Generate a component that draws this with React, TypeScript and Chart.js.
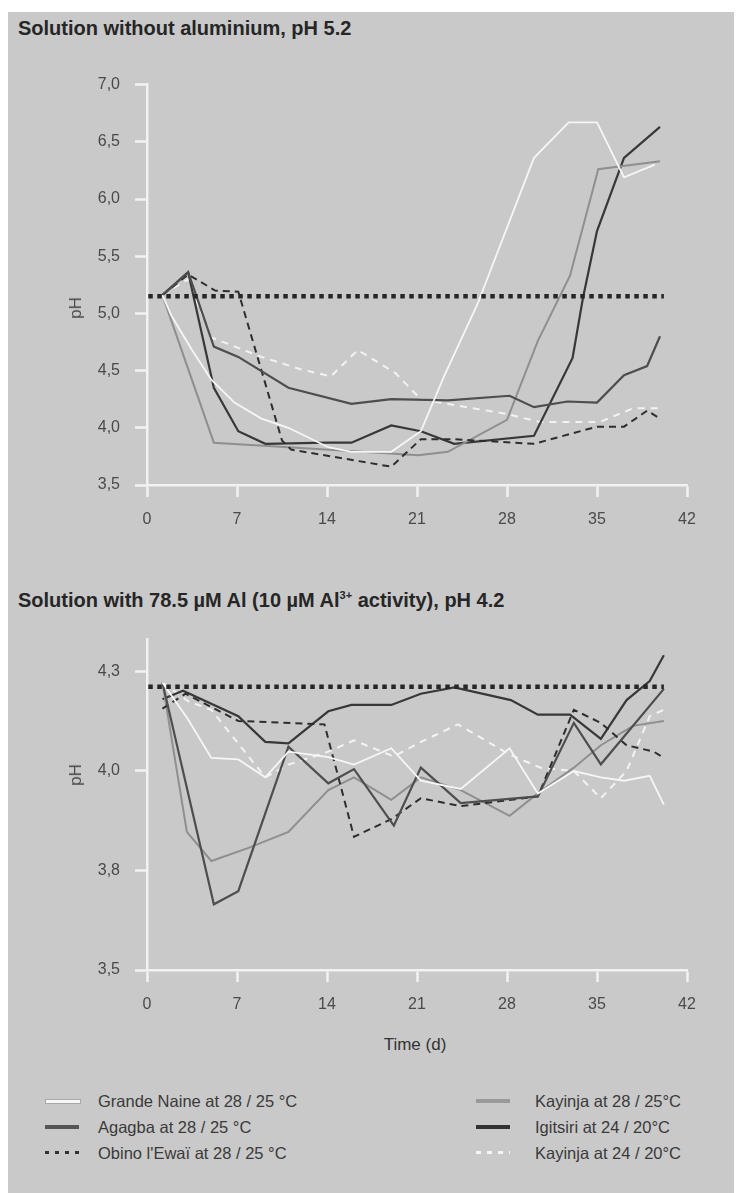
import React, { useEffect, useRef } from "react";
import { Chart, registerables } from "chart.js";

Chart.register(...registerables);

// ---------- data ----------
const xTicks = [0, 7, 14, 21, 28, 35, 42];
const topYTicks = [3.5, 4.0, 4.5, 5.0, 5.5, 6.0, 6.5, 7.0];
// bottom axis: 3.5–4.3 split in three equal steps, labelled to one decimal
const bottomYTicks = [3.5, 3.7667, 4.0333, 4.3];

const seriesNames = [
  "Grande Naine at 28 / 25 °C",
  "Agagba at 28 / 25 °C",
  "Obino l'Ewaï at 28 / 25 °C",
  "Kayinja at 28 / 25°C",
  "Igitsiri at 24 / 20°C",
  "Kayinja at 24 / 20°C",
];

// Top panel: solution without aluminium, pH 5.2
const topGrandeNaineDays = [1.2, 1.9, 3.5, 5.0, 6.8, 8.9, 11.0, 14.1, 15.9, 19.0, 21.3, 23.1, 25.7, 30.1, 32.8, 35.0, 37.1, 39.5];
const topGrandeNainePH = [5.16, 4.98, 4.68, 4.42, 4.22, 4.08, 4.0, 3.83, 3.79, 3.79, 3.97, 4.45, 5.08, 6.36, 6.67, 6.67, 6.19, 6.3];

const topAgagbaDays = [1.2, 3.2, 5.2, 7.1, 11.0, 15.9, 19.0, 23.4, 28.2, 30.1, 32.7, 35.0, 37.1, 38.9, 39.9];
const topAgagbaPH = [5.16, 5.36, 4.71, 4.62, 4.35, 4.21, 4.25, 4.24, 4.28, 4.18, 4.23, 4.22, 4.46, 4.54, 4.8];

const topObinoDays = [1.2, 3.2, 5.3, 7.1, 10.5, 11.2, 19.0, 21.3, 23.9, 30.1, 35.0, 37.1, 38.9, 39.9];
const topObinoPH = [5.16, 5.34, 5.2, 5.19, 3.89, 3.81, 3.66, 3.9, 3.9, 3.86, 4.01, 4.01, 4.15, 4.08];

const topKayinja28Days = [1.2, 5.2, 11.0, 21.1, 23.4, 28.0, 30.4, 32.9, 35.1, 39.9];
const topKayinja28PH = [5.16, 3.87, 3.83, 3.76, 3.79, 4.07, 4.76, 5.33, 6.26, 6.33];

const topIgitsiriDays = [1.2, 3.2, 5.2, 7.1, 9.2, 14.0, 15.9, 19.0, 21.3, 23.9, 30.1, 33.1, 33.9, 35.0, 37.1, 39.9];
const topIgitsiriPH = [5.16, 5.36, 4.35, 3.97, 3.86, 3.87, 3.87, 4.02, 3.97, 3.86, 3.93, 4.61, 5.13, 5.72, 6.36, 6.63];

const topKayinja24Days = [1.2, 3.2, 5.0, 8.9, 12.0, 14.3, 16.4, 19.3, 21.3, 28.0, 30.6, 35.2, 37.8, 39.9];
const topKayinja24PH = [5.16, 5.3, 4.79, 4.62, 4.51, 4.45, 4.68, 4.48, 4.25, 4.12, 4.05, 4.05, 4.17, 4.17];

const topRefDays = [0.1, 40.2];
const topRefPH = [5.15, 5.15];

// Bottom panel: solution with 78.5 µM Al, pH 4.2
const botGrandeNaineDays = [1.2, 3.2, 5.0, 7.1, 9.2, 11.0, 14.1, 16.1, 19.0, 21.3, 24.4, 28.2, 30.4, 33.2, 35.3, 37.1, 39.1, 40.2];
const botGrandeNainePH = [4.27, 4.171, 4.068, 4.064, 4.016, 4.085, 4.07, 4.05, 4.094, 4.007, 3.985, 4.094, 3.973, 4.033, 4.016, 4.007, 4.02, 3.943];

const botAgagbaDays = [1.2, 5.2, 7.1, 11.0, 14.1, 16.1, 19.2, 21.3, 24.4, 30.4, 33.2, 35.3, 40.2];
const botAgagbaPH = [4.27, 3.676, 3.711, 4.098, 4.0, 4.038, 3.887, 4.042, 3.947, 3.965, 4.162, 4.051, 4.253];

const botObinoDays = [1.2, 3.0, 7.1, 13.8, 16.1, 19.0, 21.3, 24.4, 30.4, 33.2, 35.3, 37.3, 39.4, 40.2];
const botObinoPH = [4.2, 4.24, 4.167, 4.158, 3.857, 3.904, 3.96, 3.939, 3.965, 4.197, 4.162, 4.102, 4.085, 4.068];

const botKayinja28Days = [1.2, 3.1, 5.0, 7.9, 11.0, 14.1, 16.1, 19.0, 21.3, 24.4, 28.2, 30.4, 33.2, 35.3, 37.8, 40.2];
const botKayinja28PH = [4.27, 3.87, 3.792, 3.827, 3.87, 3.982, 4.016, 3.956, 4.016, 3.982, 3.913, 3.973, 4.042, 4.102, 4.154, 4.167];

const botIgitsiriDays = [1.2, 2.8, 7.1, 9.2, 11.0, 14.1, 15.9, 19.0, 21.3, 23.9, 28.3, 30.4, 32.9, 35.3, 37.3, 39.1, 40.2];
const botIgitsiriPH = [4.225, 4.248, 4.18, 4.111, 4.107, 4.193, 4.21, 4.21, 4.24, 4.257, 4.223, 4.184, 4.184, 4.119, 4.223, 4.274, 4.343];

const botKayinja24Days = [1.2, 3.2, 5.0, 9.2, 11.0, 14.1, 16.1, 19.2, 21.3, 24.2, 28.2, 30.6, 33.2, 35.3, 37.3, 39.1, 40.2];
const botKayinja24PH = [4.27, 4.22, 4.197, 4.016, 4.05, 4.085, 4.115, 4.072, 4.111, 4.158, 4.077, 4.042, 4.033, 3.96, 4.033, 4.18, 4.197];

const botRefDays = [0.1, 40.2];
const botRefPH = [4.259, 4.259];

// ---------- styles ----------
const FONT = '"Liberation Sans", Arial, Helvetica, sans-serif';
const AXIS = "#f2f2f2";
const TICK_TEXT = "#4a4a4a";

const seriesStyles = [
  { color: "#f6f6f6", width: 1.8, dash: [] as number[] },
  { color: "#4e4e4e", width: 2.2, dash: [] as number[] },
  { color: "#2e2e2e", width: 2, dash: [7, 5] },
  { color: "#8f8f8f", width: 2, dash: [] as number[] },
  { color: "#383838", width: 2.2, dash: [] as number[] },
  { color: "#f3f3f3", width: 2, dash: [7, 6] },
];

const zip = (xs: number[], ys: number[]) => xs.map((x, i) => ({ x, y: ys[i] }));

type PanelProps = {
  seriesX: number[][];
  seriesY: number[][];
  refX: number[];
  refY: number[];
  yTicks: number[];
  yMin: number;
  yMax: number;
  width: number;
  height: number;
  padTop: number;
  padBottom: number;
};

function Panel(p: PanelProps) {
  const ref = useRef<HTMLCanvasElement | null>(null);
  useEffect(() => {
    if (!ref.current) return;
    const datasets: any[] = [
      {
        label: "reference",
        data: zip(p.refX, p.refY),
        borderColor: "#262626",
        borderWidth: 4.5,
        borderDash: [4.5, 4.5],
        borderCapStyle: "butt",
        pointRadius: 0,
        tension: 0,
      },
    ];
    p.seriesX.forEach((xs, i) => {
      const st = seriesStyles[i];
      datasets.push({
        label: seriesNames[i],
        data: zip(xs, p.seriesY[i]),
        borderColor: st.color,
        borderWidth: st.width,
        borderDash: st.dash,
        pointRadius: 0,
        tension: 0,
        borderJoinStyle: "miter",
      });
    });
    const chart = new Chart(ref.current, {
      type: "line",
      data: { datasets },
      options: {
        animation: false,
        responsive: false,
        maintainAspectRatio: false,
        devicePixelRatio: 1,
        layout: { padding: { left: 0, right: 55, top: p.padTop, bottom: p.padBottom } },
        plugins: { legend: { display: false }, tooltip: { enabled: false } },
        scales: {
          x: {
            type: "linear",
            min: 0,
            max: 42,
            afterBuildTicks: (s: any) => {
              s.ticks = xTicks.map((v) => ({ value: v }));
            },
            afterFit: (s: any) => {
              s.height = 40;
            },
            grid: {
              display: true,
              drawOnChartArea: false,
              drawTicks: true,
              tickLength: 12,
              tickColor: AXIS,
              tickWidth: 2.5,
            },
            border: { display: true, color: AXIS, width: 2.5 },
            ticks: {
              color: TICK_TEXT,
              font: { family: FONT, size: 16 },
              padding: 13,
              maxRotation: 0,
              autoSkip: false,
              callback: (v: any) => String(v),
            },
          },
          y: {
            type: "linear",
            min: p.yMin,
            max: p.yMax,
            afterBuildTicks: (s: any) => {
              s.ticks = p.yTicks.map((v) => ({ value: v }));
            },
            afterFit: (s: any) => {
              s.width = 139;
            },
            grid: {
              display: true,
              drawOnChartArea: false,
              drawTicks: true,
              tickLength: 12,
              tickColor: AXIS,
              tickWidth: 2.5,
            },
            border: { display: true, color: AXIS, width: 2.5 },
            ticks: {
              color: TICK_TEXT,
              font: { family: FONT, size: 16 },
              padding: 15,
              autoSkip: false,
              callback: (v: any) => Number(v).toFixed(1).replace(".", ","),
            },
          },
        },
      } as any,
    });
    return () => chart.destroy();
  }, []);
  return (
    <canvas
      ref={ref}
      width={p.width}
      height={p.height}
      style={{ width: p.width, height: p.height, display: "block" }}
    />
  );
}

const legendSample = (i: number): React.CSSProperties => {
  const base: React.CSSProperties = { position: "absolute", width: 34, height: 4 };
  switch (i) {
    case 0:
      return { ...base, height: 3, background: "#f7f7f7", border: "1px solid #a9a9a9" };
    case 1:
      return { ...base, background: "#555555" };
    case 2:
      return {
        ...base,
        height: 3,
        background: "repeating-linear-gradient(to right, #333 0 4px, transparent 4px 10px)",
      };
    case 3:
      return { ...base, background: "#9a9a9a" };
    case 4:
      return { ...base, background: "#333333" };
    default:
      return {
        ...base,
        height: 3,
        background: "repeating-linear-gradient(to right, #f5f5f5 0 5px, transparent 5px 11px)",
      };
  }
};

export default function App() {
  const rowY = [1101, 1127, 1153];
  const abs = (left: number, top: number): React.CSSProperties => ({
    position: "absolute",
    left: left - 8,
    top: top - 8,
  });
  const titleStyle: React.CSSProperties = {
    fontSize: 20,
    lineHeight: "20px",
    fontWeight: "bold",
    color: "#262626",
    whiteSpace: "nowrap",
  };
  return (
    <div style={{ position: "relative", width: 734, height: 1185, fontFamily: FONT }}>
      <div style={{ position: "absolute", left: 0, top: 4, width: 734, height: 1181, background: "#c9c9c9" }} />

      <div style={{ ...abs(18, 18), ...titleStyle }}>Solution without aluminium, pH 5.2</div>
      <div style={abs(8, 60)}>
        <Panel
          seriesX={[topGrandeNaineDays, topAgagbaDays, topObinoDays, topKayinja28Days, topIgitsiriDays, topKayinja24Days]}
          seriesY={[topGrandeNainePH, topAgagbaPH, topObinoPH, topKayinja28PH, topIgitsiriPH, topKayinja24PH]}
          refX={topRefDays}
          refY={topRefPH}
          yTicks={topYTicks}
          yMin={3.5}
          yMax={7.0}
          width={734}
          height={480}
          padTop={13}
          padBottom={15}
        />
      </div>
      <div style={{ ...abs(76, 308), transform: "translate(-50%, -50%) rotate(-90deg)", fontSize: 17, color: TICK_TEXT }}>pH</div>

      <div style={{ ...abs(18, 590), ...titleStyle }}>
        Solution with 78.5 µM Al (10 µM Al<sup style={{ fontSize: 11, lineHeight: 0 }}>3+</sup> activity), pH 4.2
      </div>
      <div style={abs(8, 615)}>
        <Panel
          seriesX={[botGrandeNaineDays, botAgagbaDays, botObinoDays, botKayinja28Days, botIgitsiriDays, botKayinja24Days]}
          seriesY={[botGrandeNainePH, botAgagbaPH, botObinoPH, botKayinja28PH, botIgitsiriPH, botKayinja24PH]}
          refX={botRefDays}
          refY={botRefPH}
          yTicks={bottomYTicks}
          yMin={3.5}
          yMax={4.385}
          width={734}
          height={415}
          padTop={12}
          padBottom={20}
        />
      </div>
      <div style={{ ...abs(76, 775), transform: "translate(-50%, -50%) rotate(-90deg)", fontSize: 17, color: TICK_TEXT }}>pH</div>

      <div style={{ ...abs(415, 1045), transform: "translate(-50%, -50%)", fontSize: 17, color: "#333", whiteSpace: "nowrap" }}>
        Time (d)
      </div>

      {seriesNames.map((name, i) => {
        const col = i < 3 ? 0 : 1;
        const row = i % 3;
        const sx = col === 0 ? 45 : 476;
        const tx = col === 0 ? 98 : 535;
        const y = rowY[row];
        return (
          <React.Fragment key={name}>
            <div style={{ ...legendSample(i), left: sx - 8, top: y - 8 - 2 }} />
            <div
              style={{
                ...abs(tx, y),
                transform: "translateY(-50%)",
                fontSize: 16.5,
                lineHeight: "18px",
                color: "#3a3a3a",
                whiteSpace: "nowrap",
              }}
            >
              {name}
            </div>
          </React.Fragment>
        );
      })}
    </div>
  );
}
